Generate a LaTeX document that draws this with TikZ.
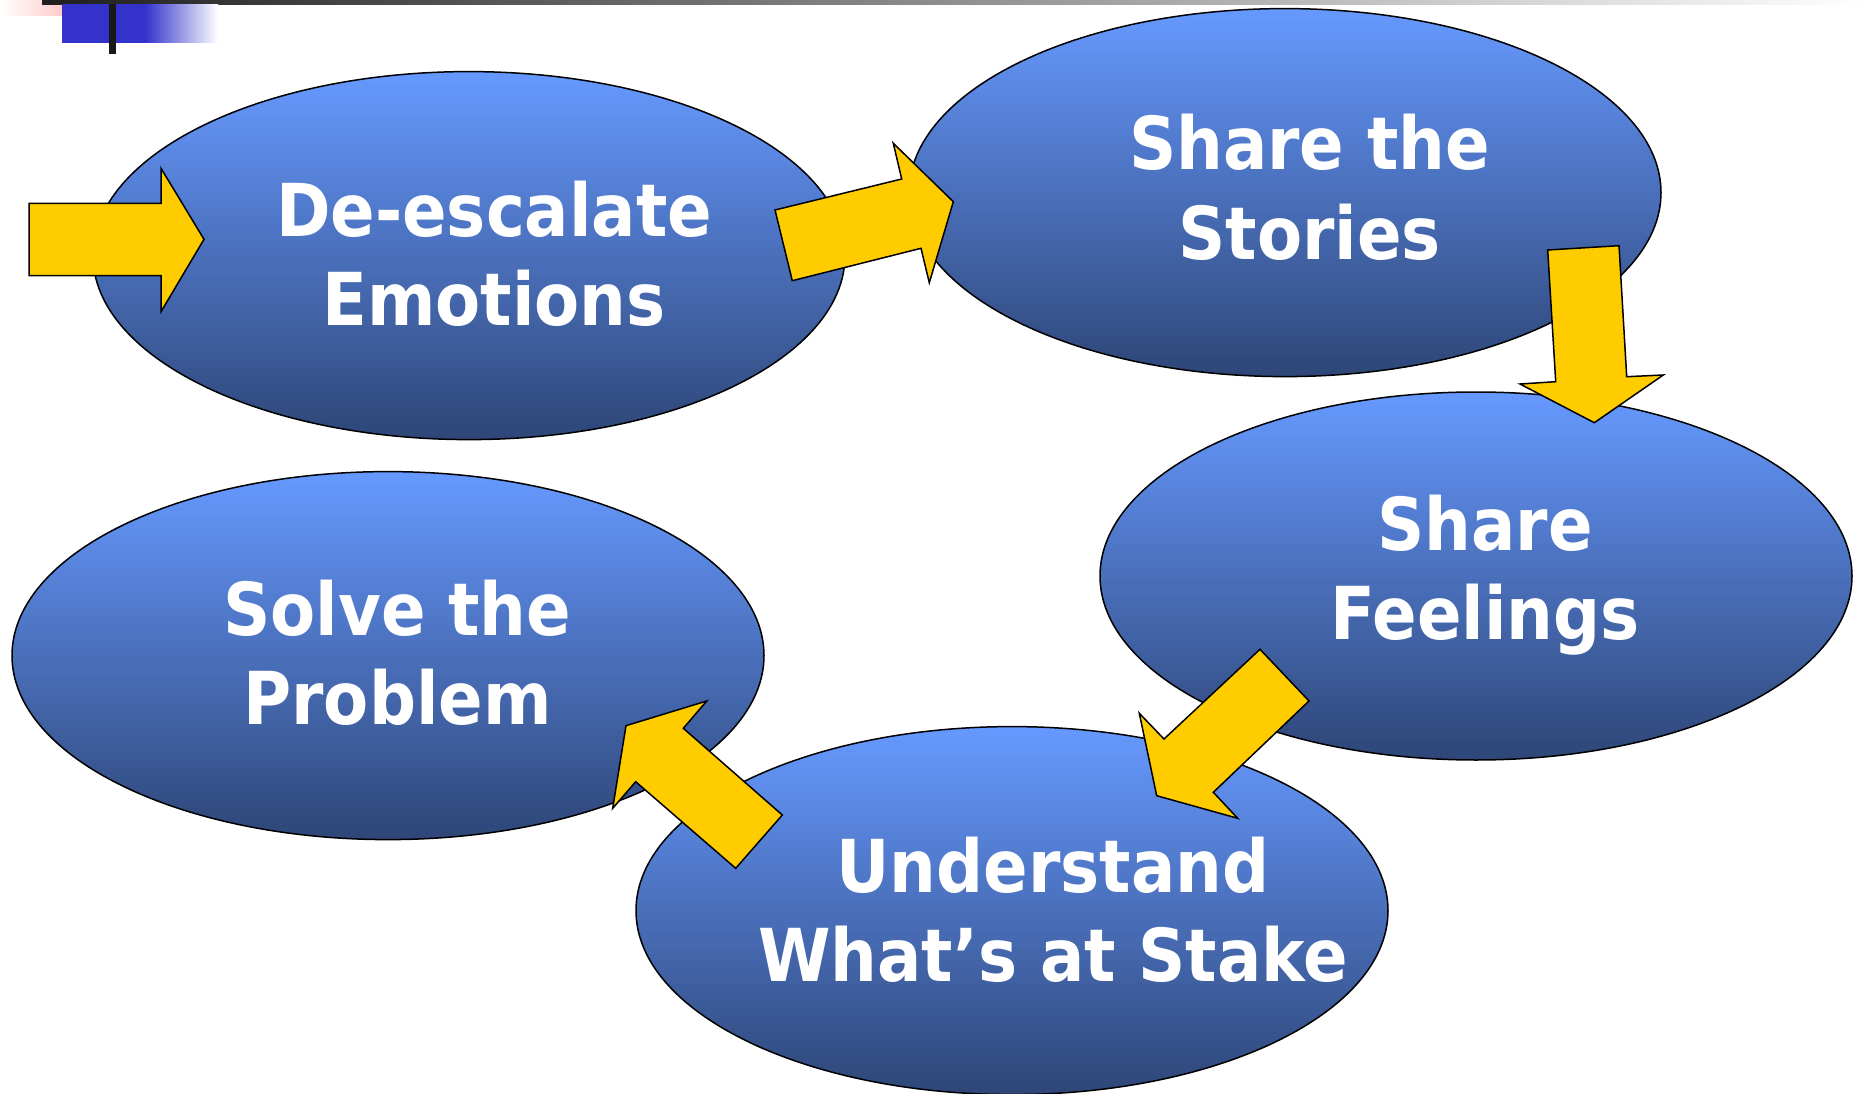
\documentclass[tikz,border=0pt]{standalone}
\usepackage{fontspec}
\newfontfamily\stepfont{DejaVu Sans Condensed Bold}
\usepackage{tikz}
\usetikzlibrary{shapes.geometric}
\definecolor{skytop}{RGB}{102,153,255}
\definecolor{skybot}{RGB}{46,70,119}
\definecolor{gold}{RGB}{255,204,0}
\definecolor{bullet}{RGB}{51,51,204}
\definecolor{blush}{RGB}{255,178,178}
\tikzset{
  blob/.style={ellipse,draw,line width=1.5pt,top color=skytop,bottom color=skybot,
    minimum width=752pt,minimum height=368pt,inner sep=0pt},
  steptext/.style={anchor=base,align=center,text=white,
    font=\stepfont\fontsize{73}{89}\selectfont},
  fatarrow/.style={draw,line width=1.5pt,fill=gold}
}
\begin{document}
\begin{tikzpicture}[x=1pt,y=-1pt]
\useasboundingbox (0,0) rectangle (1864,1094);
\shade[left color=white,right color=blush] (0,0) rectangle (93,16);
\shade[left color=black!88,right color=white] (42,0) rectangle (1864,4.5);
\fill[bullet] (62,4.5) rectangle (146,43);
\shade[left color=bullet,right color=white] (145,4.5) rectangle (218,43);
\fill[black!90] (109,4.5) rectangle (116,54);

\node[blob] (calm) at (469,255.6) {};
\node[blob] (stories) at (1285,192.6) {};
\node[blob] (feelings) at (1476,576) {};
\node[blob] (solve) at (388,655.6) {};
\node[blob] (stake) at (1012,910.6) {};

\node[steptext] (calmtxt) at (494,325) {De-escalate\\Emotions};
\node[steptext] (storiestxt) at (1309.5,259) {Share the\\Stories};
\node[steptext] (feelingstxt) at (1485,639) {Share\\Feelings};
\node[steptext] (solvetxt) at (397.5,724) {Solve the\\Problem};
\node[steptext] (staketxt) at (1053,981) {Understand\\What’s at Stake};

\draw[fatarrow] (29,203.3)--(161,203.3)--(161,168.3)--(204,239.3)--(161,311.7)--(161,275.7)--(29,275.7)--cycle;
\draw[fatarrow] (775,210)--(901.7,179)--(893.3,143.3)--(953.3,201.7)--(929.3,282.7)--(921,248.3)--(792.3,280.7)--cycle;
\draw[fatarrow] (1547.7,250)--(1619,245.7)--(1626.7,376.7)--(1663.3,375)--(1594.3,422.7)--(1520,384)--(1555.7,381.7)--cycle;
\draw[fatarrow] (1260,649.3)--(1309,701)--(1213.3,792.3)--(1237.7,818.3)--(1156.7,795.7)--(1139.3,713.3)--(1164,739)--cycle;
\draw[fatarrow] (735.7,868.3)--(782.3,815)--(683.3,728.3)--(706.7,701)--(626,725.7)--(612.7,808.3)--(635.7,781.7)--cycle;
\end{tikzpicture}
\end{document}
